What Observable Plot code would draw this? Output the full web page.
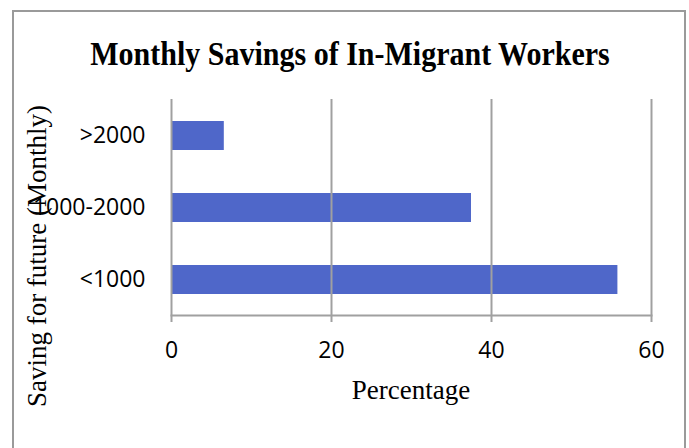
<!DOCTYPE html>
<html>
<head>
<meta charset="utf-8">
<script src="https://cdn.jsdelivr.net/npm/d3@7"></script>
<script src="https://cdn.jsdelivr.net/npm/@observablehq/plot@0.6"></script>
<style>
  html, body { margin: 0; padding: 0; background: #fff; }
  #wrap { position: relative; width: 689px; height: 448px; overflow: hidden; background: #fff; }
  #border { position: absolute; left: 12px; top: 10px; width: 674px; height: 460px; border: 2px solid #9a9a9a; box-sizing: border-box; }
  #title { position: absolute; left: 0; width: 700px; top: 40px; text-align: center; font-family: "Liberation Serif", "Times New Roman", serif; font-weight: bold; font-size: 30px; line-height: 30px; color: #000; transform: scaleY(1.1); transform-origin: 50% 85%; }
  #chart { position: absolute; left: 0; top: 80px; }
  #xlabel { position: absolute; left: 171px; width: 480px; top: 377px; text-align: center; font-family: "Liberation Serif", serif; font-size: 27px; line-height: 27px; color: #000; }
  #ylabel { position: absolute; left: 37px; top: 256px; width: 420px; text-align: center; font-family: "Liberation Serif", serif; font-size: 27px; line-height: 27px; color: #000; transform: translate(-50%, -50%) rotate(-90deg); white-space: nowrap; }
</style>
</head>
<body>
<div id="wrap">
  <div id="border"></div>
  <div id="title"></div>
  <div id="chart"></div>
  <div id="xlabel"></div>
  <div id="ylabel"></div>
</div>
<script>
const titleText = "Monthly Savings of In-Migrant Workers";
const xLabelText = "Percentage";
const yLabelText = "Saving for future (Monthly)";
const categories = [">2000", "1000-2000", "<1000"];
const percentages = [6.6, 37.5, 55.8];
const xTicks = [0, 20, 40, 60];

const data = categories.map((c, i) => ({category: c, value: percentages[i]}));

document.getElementById("title").textContent = titleText;
document.getElementById("xlabel").textContent = xLabelText;
document.getElementById("ylabel").textContent = yLabelText;

const grid = "#a0a0a0";
const plot = Plot.plot({
  width: 689,
  height: 368,
  marginTop: 19,
  marginBottom: 133,
  marginLeft: 171,
  marginRight: 38,
  style: {fontFamily: "'Open Sans', sans-serif", color: "#000", background: "transparent"},
  x: {domain: [0, 60], ticks: xTicks, label: null},
  y: {domain: categories, paddingInner: 0.6, paddingOuter: 0.3, label: null},
  marks: [
    Plot.barX(data, {x: "value", y: "category", fill: "#4f67c9"}),
    Plot.ruleX(xTicks, {stroke: grid, strokeWidth: 2, insetBottom: -7}),
    Plot.frame({anchor: "bottom", stroke: grid, strokeWidth: 2}),
    Plot.axisX({ticks: xTicks, tickSize: 0, tickPadding: 26, fontSize: 23, label: null}),
    Plot.axisY({tickSize: 0, tickPadding: 26, fontSize: 23, label: null})
  ]
});
document.getElementById("chart").appendChild(plot);
</script>
</body>
</html>
